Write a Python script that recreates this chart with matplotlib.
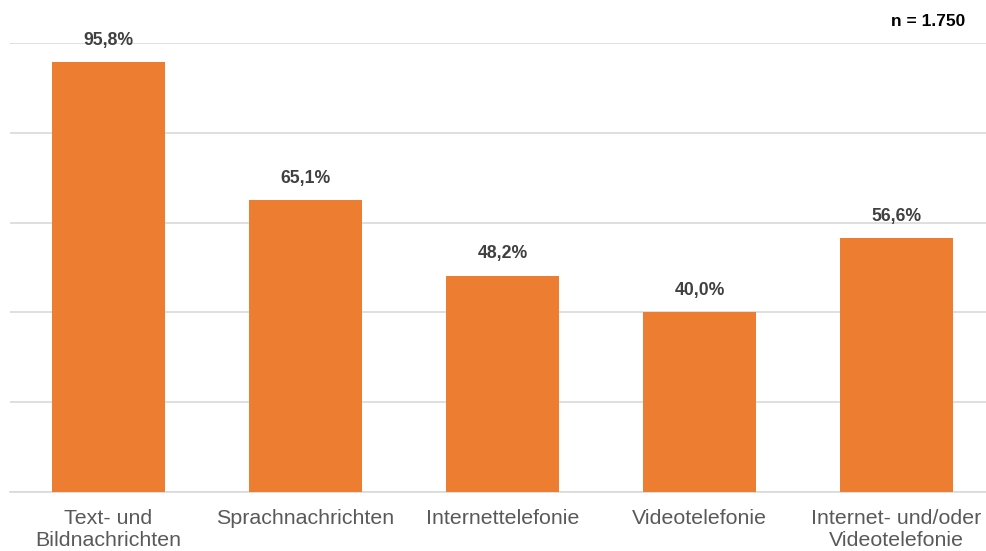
import matplotlib
matplotlib.use("Agg")
import matplotlib.pyplot as plt
import numpy as np

plt.rcParams['font.family'] = ['Liberation Sans', 'DejaVu Sans']

categories = ["Text- und\nBildnachrichten", "Sprachnachrichten", "Internettelefonie",
              "Videotelefonie", "Internet- und/oder\nVideotelefonie"]
values = [95.8, 65.1, 48.2, 40.0, 56.6]
labels = ["95,8%", "65,1%", "48,2%", "40,0%", "56,6%"]

W, H = 987, 551
fig = plt.figure(figsize=(W / 100, H / 100), dpi=100)
# axes from x=10 to right edge, y: 0 at 492px, 100 at 43px
ax = fig.add_axes([10 / W, 1 - 492 / H, (W - 10) / W, (492 - 43) / H])

x = np.arange(len(categories))
ax.bar(x, values, width=0.574, color="#ED7D31", zorder=3)
for xi, v, lab in zip(x, values, labels):
    ax.annotate(lab, (xi, v), xytext=(0, 9.5), textcoords="offset points",
                ha="center", va="bottom", fontsize=12.7, fontweight="bold", color="#404040")

ax.set_ylim(0, 100)
ax.set_xlim(-0.5, 4.5 - 8 / 197)
ax.set_yticks([0, 20, 40, 60, 80, 100])
ax.set_yticklabels([])
ax.yaxis.grid(True, color="#d9d9d9", linewidth=1.2, zorder=0)
ax.tick_params(axis="y", length=0)
ax.tick_params(axis="x", length=0, pad=12.5)
ax.set_xticks(x)
ax.set_xticklabels(categories, fontsize=15.4, color="#595959", linespacing=1.15)
for s in ["top", "right", "left"]:
    ax.spines[s].set_visible(False)
ax.spines["bottom"].set_color("#d9d9d9")
ax.spines["bottom"].set_linewidth(1.2)

fig.text(965 / W, 1 - 22 / H, "n = 1.750", ha="right", va="center",
         fontsize=12.5, fontweight="bold", color="black")

fig.savefig("out.png", dpi=100)
